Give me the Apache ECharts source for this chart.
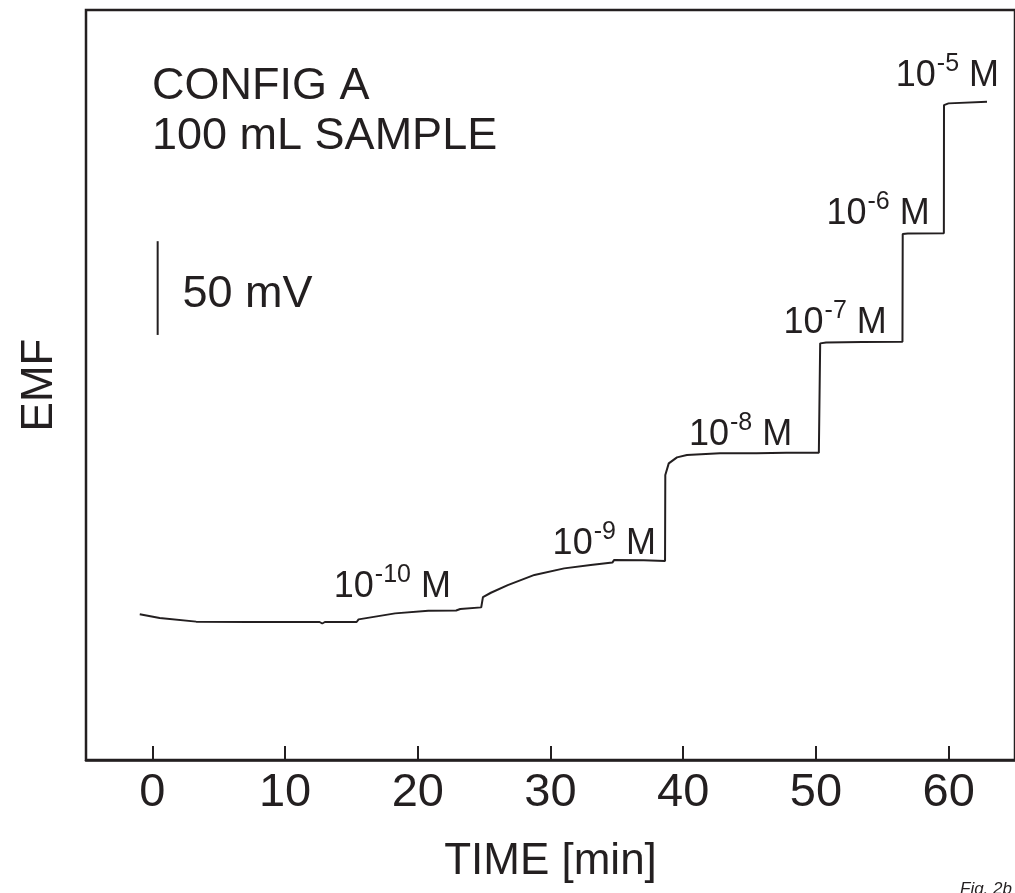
<!DOCTYPE html>
<html>
<head>
<meta charset="utf-8">
<script src="https://cdn.jsdelivr.net/npm/echarts@6/dist/echarts.min.js"></script>
<style>
html,body{margin:0;padding:0;background:#fff;}
#c{width:1015px;height:893px;}
</style>
</head>
<body>
<div id="c"></div>
<script>
// ---- data ----
const timeMin = [-0.95, 0.55, 3.3, 7.29, 11.04, 12.6, 12.8, 13.0, 15.39, 15.54, 18.29, 20.79, 22.89, 23.2, 24.78,
  24.91, 25.51, 26.78, 28.79, 31.03, 33.03, 34.66, 34.8, 37.03, 38.63,
  38.65, 38.91, 39.53, 40.28, 42.77, 45.52, 47.77, 50.22,
  50.32, 50.77, 53.5, 56.52,
  56.54, 56.92, 59.64,
  59.65, 59.99, 62.89];
const emfMv = [77.7, 75.7, 73.8, 73.6, 73.6, 73.6, 72.8, 73.6, 73.6, 75.0, 78.2, 79.6, 79.7, 80.5, 81.4,
  86.9, 89.2, 93.3, 98.7, 102.2, 104.0, 105.3, 106.7, 106.5, 106.1,
  152.0, 158.2, 161.4, 162.7, 163.6, 163.6, 163.9, 163.9,
  222.2, 222.7, 222.9, 223.1,
  280.5, 280.8, 280.9,
  349.3, 350.2, 351.1];

const concExp = ['-10', '-9', '-8', '-7', '-6', '-5'];
const concT = [13.67, 30.16, 40.43, 47.56, 50.79, 56.02];
const concV = [86.4, 109.3, 167.5, 227.2, 285.3, 358.9];

const xTicks = [0, 10, 20, 30, 40, 50, 60];

const scaleBarT = 0.4;
const scaleBarV = [226.7, 276.7];
const scaleBarText = '50 mV';
const scaleTextPos = [2.27, 248];

const titleLines = ['CONFIG A', '100 mL SAMPLE'];
const xName = 'TIME [min]';
const yName = 'EMF';
const figTag = 'Fig. 2b';

// ---- chart ----
const INK = '#231f20';
const FONT = '"Liberation Sans", Arial, Helvetica, sans-serif';
const chart = echarts.init(document.getElementById('c'), null, {renderer: 'canvas'});

const curve = timeMin.map((t, i) => [t, emfMv[i]]);
const labels = concT.map((t, i) => [t, concV[i], concExp[i]]);

chart.setOption({
  animation: false,
  backgroundColor: '#fff',
  textStyle: {fontFamily: FONT, color: INK},
  grid: {
    left: 86, top: 10, width: 934, height: 750,
    show: true, borderColor: INK, borderWidth: 2.5, backgroundColor: 'transparent'
  },
  xAxis: {
    type: 'value', min: -5, max: 65,
    name: xName, nameLocation: 'middle', nameGap: 80,
    nameTextStyle: {fontFamily: FONT, fontSize: 44, color: INK},
    axisLine: {show: true, onZero: false, lineStyle: {color: INK, width: 2.5}},
    axisTick: {show: true, inside: true, length: 14, lineStyle: {color: INK, width: 2}, customValues: xTicks},
    axisLabel: {show: true, margin: 10, fontFamily: FONT, fontSize: 47, color: INK, customValues: xTicks},
    splitLine: {show: false}
  },
  yAxis: {
    type: 'value', min: 0, max: 400,
    name: yName, nameLocation: 'middle', nameGap: 24, nameRotate: 90,
    nameTextStyle: {fontFamily: FONT, fontSize: 44, color: INK},
    axisLine: {show: false}, axisTick: {show: false}, axisLabel: {show: false}, splitLine: {show: false}
  },
  graphic: [
    {type: 'text', left: 152, top: 62, style: {text: titleLines.join('\n'), font: '45px ' + FONT, fill: INK, lineHeight: 50}},
    {type: 'text', left: 960, top: 881, style: {text: figTag, font: 'italic 17px ' + FONT, fill: INK}}
  ],
  series: [
    {
      type: 'line', data: curve, showSymbol: false, symbol: 'none',
      lineStyle: {color: INK, width: 2}
    },
    {
      type: 'line', data: scaleBarV.map(v => [scaleBarT, v]), showSymbol: false, symbol: 'none',
      lineStyle: {color: INK, width: 2}
    },
    {
      type: 'scatter', symbolSize: 0, itemStyle: {opacity: 1}, data: [[scaleTextPos[0], scaleTextPos[1], scaleBarText]],
      label: {show: true, position: [0, 0], align: 'left', verticalAlign: 'middle',
        formatter: p => p.data[2], fontFamily: FONT, fontSize: 45, color: INK, opacity: 1}
    },
    {
      type: 'scatter', symbolSize: 0, itemStyle: {opacity: 1}, data: labels,
      label: {
        show: true, position: [0, 0], align: 'left', verticalAlign: 'bottom', offset: [0, 7], opacity: 1,
        formatter: p => '{b|10}{s|' + p.data[2] + '}{b| M}',
        rich: {
          b: {fontFamily: FONT, fontSize: 36, color: INK, verticalAlign: 'bottom', lineHeight: 42},
          s: {fontFamily: FONT, fontSize: 25, color: INK, verticalAlign: 'top', lineHeight: 42, padding: [0, 0, 0, 1]}
        }
      }
    }
  ]
});
</script>
</body>
</html>
